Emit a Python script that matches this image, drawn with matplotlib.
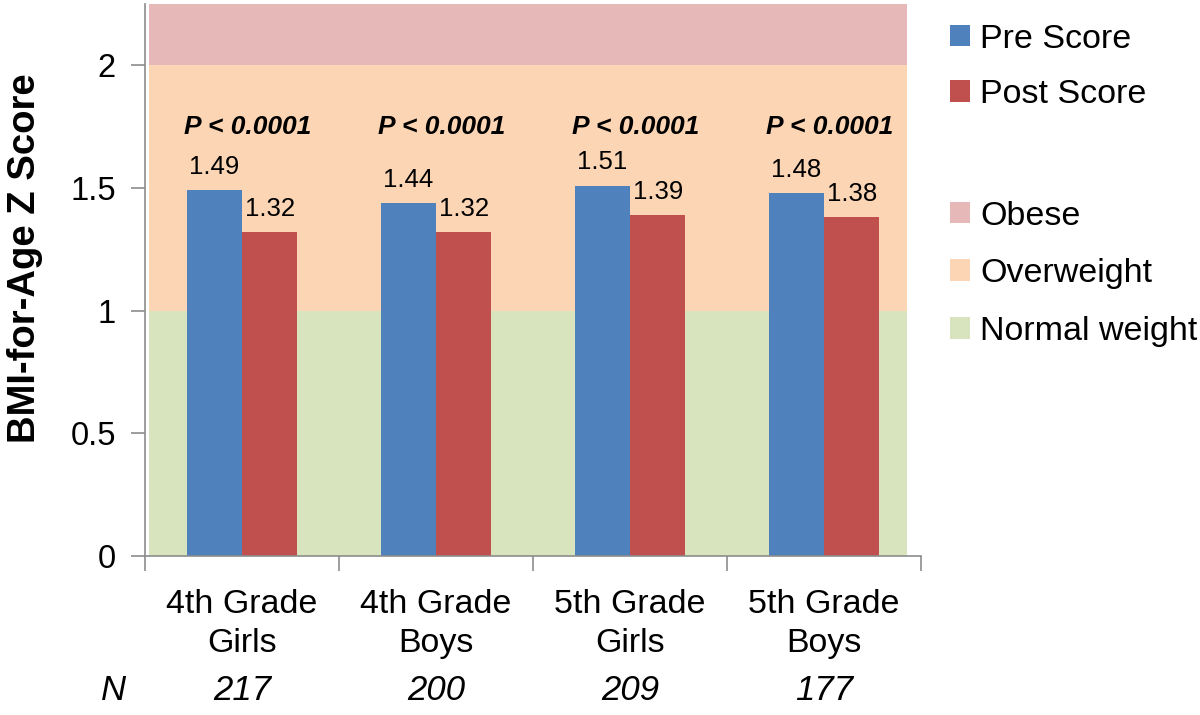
import numpy as np
import matplotlib.pyplot as plt
from matplotlib.patches import Patch
import matplotlib.transforms as mtransforms

plt.rcParams['font.family'] = ['Liberation Sans', 'DejaVu Sans']

groups = ['4th Grade\nGirls', '4th Grade\nBoys', '5th Grade\nGirls', '5th Grade\nBoys']
n_counts = ['217', '200', '209', '177']
pre = [1.49, 1.44, 1.51, 1.48]
post = [1.32, 1.32, 1.39, 1.38]
p_text = ['P < 0.0001'] * 4

band_names = ['Obese', 'Overweight', 'Normal weight']
band_lo = [2, 1, 0]
band_hi = [2.25, 2, 1]
band_colors = ['#e6b9b8', '#fcd5b5', '#d7e4bd']

blue = '#4f81bd'
red = '#c0504d'
grey = '#8c8c8c'

fig = plt.figure(figsize=(12, 7.15), dpi=100)
ax = fig.add_axes([145/1200, 1 - 556/715, 776/1200, 552/715])

x = np.arange(len(groups))
w = 0.285

# background weight bands
for lo, hi, c in zip(band_lo, band_hi, band_colors):
    ax.axhspan(lo, hi, xmin=0.005, xmax=0.982, color=c, lw=0, zorder=0)

b1 = ax.bar(x - w/2, pre, w, color=blue, zorder=2, label='Pre Score')
b2 = ax.bar(x + w/2, post, w, color=red, zorder=2, label='Post Score')

for xi, v in zip(x - w/2, pre):
    ax.annotate(f'{v:.2f}', (xi, v), xytext=(0, 8), textcoords='offset points',
                ha='center', va='bottom', fontsize=18.5)
for xi, v in zip(x + w/2, post):
    ax.annotate(f'{v:.2f}', (xi, v), xytext=(0, 8), textcoords='offset points',
                ha='center', va='bottom', fontsize=18.5)

for xi, t in zip(x, p_text):
    ax.text(xi + 0.03, 1.75, t, ha='center', va='center', fontsize=19,
            fontweight='bold', fontstyle='italic')

ax.set_xlim(-0.5, 3.5)
ax.set_ylim(0, 2.25)
ax.set_yticks([0, 0.5, 1, 1.5, 2])
ax.set_yticklabels(['0', '0.5', '1', '1.5', '2'])
ax.set_xticks(x)
ax.set_xticklabels(groups, fontsize=24.5, linespacing=1.3)
ax.set_xticks(np.arange(-0.5, 4, 1), minor=True)
ax.tick_params(axis='x', which='major', length=0, pad=24)
ax.tick_params(axis='x', which='minor', length=11, color=grey, width=1.2)
ax.tick_params(axis='y', length=10, color=grey, width=1.2, labelsize=23.5, pad=11)

for s in ['top', 'right']:
    ax.spines[s].set_visible(False)
for s in ['left', 'bottom']:
    ax.spines[s].set_color(grey)
    ax.spines[s].set_linewidth(1.2)

ax.set_ylabel('BMI-for-Age Z Score', fontsize=27.5, fontweight='bold')
ax.yaxis.set_label_coords(-0.132, 0.54)

# N row under the category labels
trans = mtransforms.blended_transform_factory(ax.transData, fig.transFigure)
for xi, n in zip(x, n_counts):
    ax.text(xi, 24/715, n, transform=trans, ha='center', va='center',
            fontsize=25, fontstyle='italic')
fig.text(113/1200, 24/715, 'N', ha='center', va='center', fontsize=25,
         fontstyle='italic')

leg1 = fig.legend(handles=[b1, b2], loc='upper left',
                  bbox_to_anchor=(936/1200, 1 - 10/715), frameon=False,
                  fontsize=24.5, handlelength=0.6, handleheight=0.6,
                  handletextpad=0.3, labelspacing=0.72, borderaxespad=0)
handles = [Patch(color=c, lw=0) for c in band_colors]
leg2 = fig.legend(handles=handles, labels=band_names, loc='upper left',
                  bbox_to_anchor=(936/1200, 1 - 187/715), frameon=False,
                  fontsize=24.5, handlelength=0.6, handleheight=0.6,
                  handletextpad=0.3, labelspacing=0.78, borderaxespad=0)

fig.savefig('out.png', dpi=100)
